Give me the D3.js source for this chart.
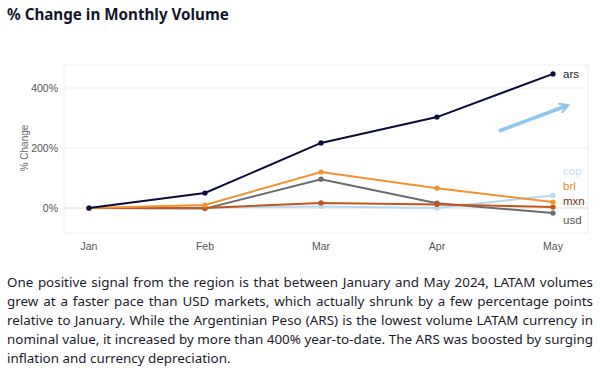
<!DOCTYPE html>
<html>
<head>
<meta charset="utf-8">
<script src="https://cdn.jsdelivr.net/npm/d3@7"></script>
<style>
  body { margin: 0; background: #fff; width: 600px; height: 368px; overflow: hidden; position: relative; }
  .note { position: absolute; left: 7px; top: 273px; width: 586px; font-family: "Noto Sans", sans-serif;
          font-size: 13.4px; line-height: 19px; color: #1c1c2b; text-align: justify; }
</style>
</head>
<body>
<svg width="600" height="270"></svg>
<script>
const months = ['Jan', 'Feb', 'Mar', 'Apr', 'May'];
const ars = [0, 50, 217, 303, 447];
const brl = [0, 10, 120, 66, 20];
const usd = [0, -2, 96, 16, -17];
const mxn = [0, 0, 17, 12, 3];
const cop = [0, 2, 5, 0, 42];
const yTicks = [0, 200, 400];

const series = [
  {name: 'cop', values: cop, color: '#b5d9f2', text: '#c4e0f4', labelY: 171},
  {name: 'usd', values: usd, color: '#6b6b6b', text: '#555', labelY: 220},
  {name: 'mxn', values: mxn, color: '#c4561c', text: '#7a3414', labelY: 201},
  {name: 'brl', values: brl, color: '#f0922e', text: '#e08a26', labelY: 186},
  {name: 'ars', values: ars, color: '#0c0c3c', text: '#222', labelY: 74}
];

const svg = d3.select('svg');

svg.append('text')
  .attr('x', 7).attr('y', 20)
  .attr('font-family', 'Noto Sans, sans-serif')
  .attr('font-weight', 'bold')
  .attr('font-size', 15.2)
  .attr('fill', '#16162a')
  .text('% Change in Monthly Volume');

const x = d3.scalePoint().domain(months).range([89, 553]);
const y = d3.scaleLinear().domain([0, 400]).range([208, 88]);

// frame
svg.append('rect')
  .attr('x', 64).attr('y', 65).attr('width', 524).attr('height', 168)
  .attr('fill', 'none').attr('stroke', '#efefef');

// grid
svg.append('g')
  .selectAll('line').data(yTicks).join('line')
  .attr('x1', 64).attr('x2', 588)
  .attr('y1', d => y(d)).attr('y2', d => y(d))
  .attr('stroke', d => d === 0 ? '#dcdcdc' : '#efefef');

svg.append('g')
  .selectAll('text').data(yTicks).join('text')
  .attr('x', 58).attr('y', d => y(d) + 4)
  .attr('text-anchor', 'end')
  .attr('font-family', 'Liberation Sans, Arial, sans-serif')
  .attr('font-size', 10.5).attr('fill', '#555')
  .text(d => d + '%');

svg.append('g')
  .selectAll('text').data(months).join('text')
  .attr('x', d => x(d)).attr('y', 250)
  .attr('text-anchor', 'middle')
  .attr('font-family', 'Liberation Sans, Arial, sans-serif')
  .attr('font-size', 10.5).attr('fill', '#555')
  .text(d => d);

svg.append('text')
  .attr('transform', 'translate(28,148) rotate(-90)')
  .attr('text-anchor', 'middle')
  .attr('font-family', 'Liberation Sans, Arial, sans-serif')
  .attr('font-size', 10).attr('fill', '#666')
  .text('% Change');

const line = d3.line().x((d, i) => x(months[i])).y(d => y(d));

const g = svg.append('g');
series.forEach(s => {
  g.append('path').datum(s.values)
    .attr('d', line)
    .attr('fill', 'none')
    .attr('stroke', s.color)
    .attr('stroke-width', 2);
  g.selectAll(null).data(s.values).join('circle')
    .attr('cx', (d, i) => x(months[i]))
    .attr('cy', d => y(d))
    .attr('r', 2.6)
    .attr('fill', s.color);
  g.append('text')
    .attr('x', 563).attr('y', s.labelY + 4)
    .attr('font-family', 'Liberation Sans, Arial, sans-serif')
    .attr('font-size', 11.5)
    .attr('fill', s.text)
    .text(s.name);
});

// arrow
svg.append('defs').append('marker')
  .attr('id', 'head').attr('viewBox', '0 0 10 10')
  .attr('refX', 6).attr('refY', 5)
  .attr('markerWidth', 3.2).attr('markerHeight', 3.2)
  .attr('orient', 'auto')
  .append('path').attr('d', 'M1,1 L8,5 L1,9')
  .attr('fill', 'none').attr('stroke', '#8ec6ee').attr('stroke-width', 2)
  .attr('stroke-linecap', 'round');
svg.append('line')
  .attr('x1', 499).attr('y1', 131).attr('x2', 566).attr('y2', 106)
  .attr('stroke', '#8ec6ee').attr('stroke-width', 3.5)
  .attr('marker-end', 'url(#head)');

d3.select('body').append('div').attr('class', 'note')
  .text('One positive signal from the region is that between January and May 2024, LATAM volumes grew at a faster pace than USD markets, which actually shrunk by a few percentage points relative to January. While the Argentinian Peso (ARS) is the lowest volume LATAM currency in nominal value, it increased by more than 400% year-to-date. The ARS was boosted by surging inflation and currency depreciation.');
</script>
</body>
</html>
